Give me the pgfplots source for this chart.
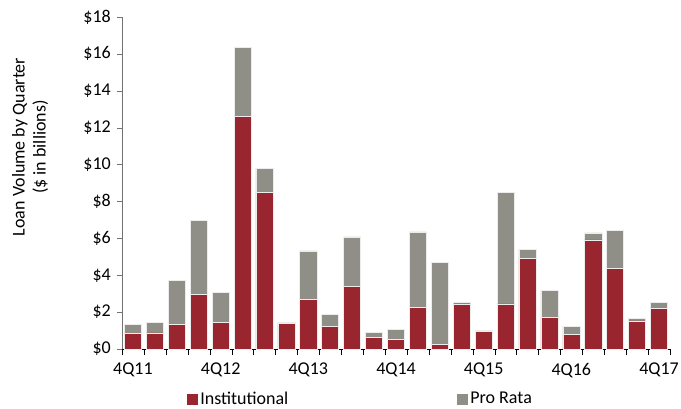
\documentclass[border=0pt]{standalone}
\usepackage{fontspec}
\setmainfont{Carlito}
\usepackage{pgfplots}
\pgfplotsset{compat=1.18}
\usepackage{pgfplotstable}
\definecolor{instred}{RGB}{153,37,46}
\definecolor{progray}{RGB}{143,143,135}
\pgfplotstableread{
x inst pro
0 0.83 0.49
1 0.87 0.57
2 1.35 2.37
3 2.96 4.00
4 1.46 1.61
5 12.59 3.75
6 8.48 1.31
7 1.39 0.05
8 2.69 2.63
9 1.23 0.63
10 3.41 2.67
11 0.63 0.29
12 0.52 0.53
13 2.25 4.10
14 0.27 4.42
15 2.44 0.10
16 0.97 0.03
17 2.44 6.06
18 4.91 0.50
19 1.71 1.45
20 0.79 0.45
21 5.92 0.37
22 4.37 2.05
23 1.52 0.12
24 2.20 0.34
}\loandata
\begin{document}
\fontsize{18bp}{21bp}\selectfont
\begin{tikzpicture}
\path[use as bounding box] (-122bp,-60bp) rectangle (559bp,349bp);
\begin{axis}[
  at={(0,0)}, anchor=south west,
  scale only axis, width=548bp, height=332bp,
  ybar stacked, bar width=0.78,
  xmin=-0.5, xmax=24.5, ymin=0, ymax=18,
  axis lines*=left,
  x axis line style={black},
  y axis line style={black!55},
  xtick={0,4,...,24},
  xticklabels={4Q11,4Q12,4Q13,4Q14,4Q15,4Q16,4Q17},
  major x tick style={draw=none},
  minor xtick={-0.5,0.5,...,24.5},
  minor tick length=6bp,
  minor x tick style={black},
  ytick={0,2,...,18},
  yticklabels={\$0,\$2,\$4,\$6,\$8,\$10,\$12,\$14,\$16,\$18},
  major tick length=5bp,
  y tick style={black!55},
  tick align=outside,
  xtick pos=bottom, ytick pos=left,
  tick label style={font=\fontsize{18bp}{21bp}\selectfont},
  xticklabel style={yshift=-3bp},
  legend columns=2,
  legend style={draw=none, at={(0.117,-0.151)}, anchor=west, inner sep=1bp,
    font=\fontsize{18bp}{21bp}\selectfont,
    /tikz/every even column/.append style={column sep=167bp}},
  legend image code/.code={\fill[#1,draw=none] (0bp,-5.5bp) rectangle (11bp,5.5bp);},
]
\addplot[fill=instred, draw=white!85!gray, line width=0.6pt] table[x=x,y=inst]{\loandata};
\addlegendentry{Institutional}
\addplot[fill=progray, draw=white!85!gray, line width=0.6pt] table[x=x,y=pro]{\loandata};
\addlegendentry{Pro Rata}
\end{axis}
\node[rotate=90, align=center, font=\fontsize{18bp}{21bp}\selectfont] at (-92bp,202bp) {Loan Volume by Quarter\\(\$ in billions)};
\end{tikzpicture}
\end{document}
